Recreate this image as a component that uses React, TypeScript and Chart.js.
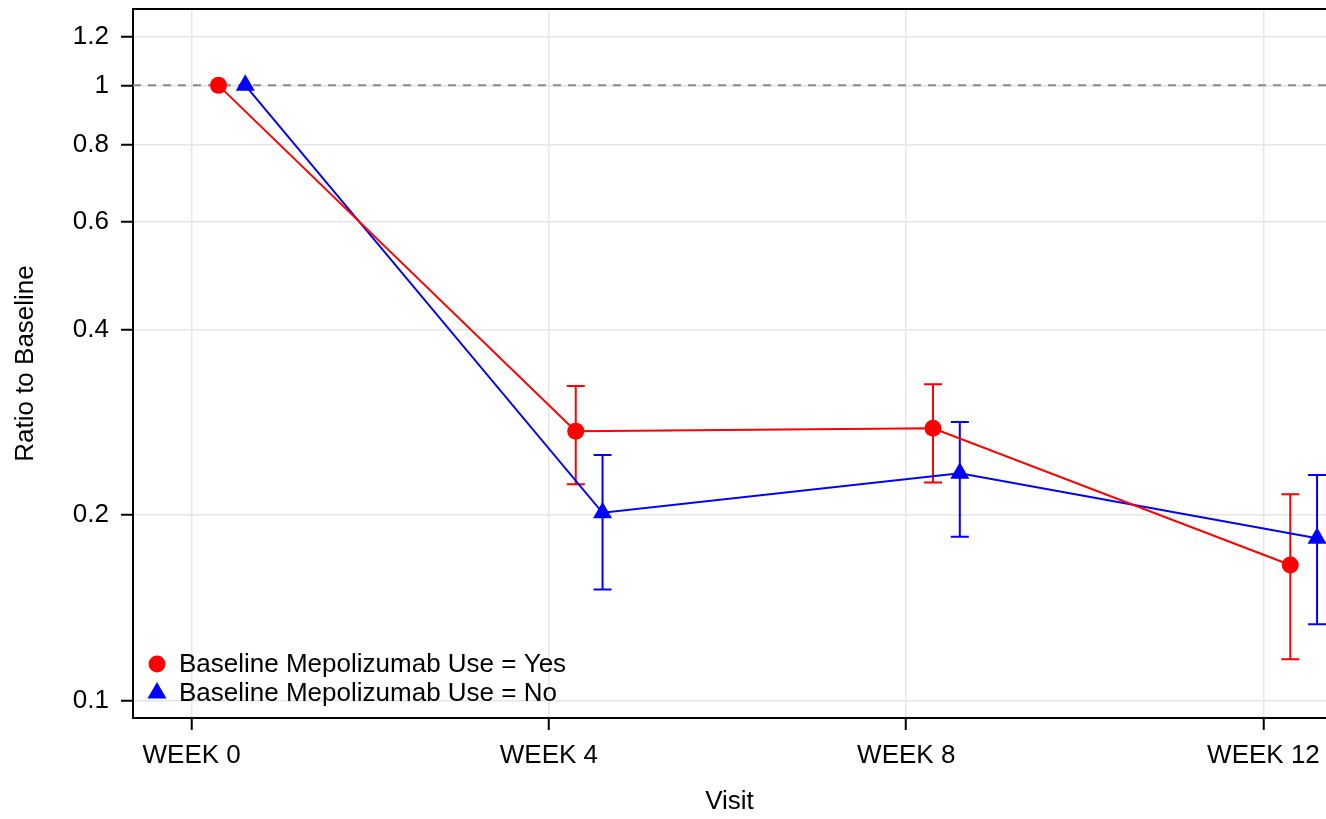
import React, { useEffect, useRef } from "react";
import { Chart, registerables } from "chart.js";

Chart.register(...registerables);

// ---- data ----
const visitLabels = ["WEEK 0", "WEEK 4", "WEEK 8", "WEEK 12"];
const visitWeeks = [0, 4, 8, 12];
const seriesNames = ["Baseline Mepolizumab Use = Yes", "Baseline Mepolizumab Use = No"];

const yesX = [0.3, 4.3, 8.3, 12.3];
const yesMean = [1.0, 0.274, 0.277, 0.166];
const yesLower = [null, 0.2245, 0.226, 0.1166];
const yesUpper = [null, 0.3245, 0.3265, 0.2164];

const noX = [0.6, 4.6, 8.6, 12.6];
const noMean = [1.0, 0.2018, 0.234, 0.1834];
const noLower = [null, 0.1515, 0.1845, 0.1329];
const noUpper = [null, 0.2505, 0.2835, 0.2324];

const yTicks = [0.1, 0.2, 0.4, 0.6, 0.8, 1, 1.2];
const yTickLabels = ["0.1", "0.2", "0.4", "0.6", "0.8", "1", "1.2"];
const referenceValue = 1;

const RED = "#ff0000";
const BLUE = "#0000ff";
const FONT = "'Liberation Sans', Arial, Helvetica, sans-serif";
const FS = 26;

export default function App() {
  const ref = useRef<HTMLCanvasElement | null>(null);

  useEffect(() => {
    const canvas = ref.current;
    if (!canvas) return;

    const errorBars = [
      { x: yesX, lo: yesLower, hi: yesUpper, color: RED },
      { x: noX, lo: noLower, hi: noUpper, color: BLUE },
    ];

    const extras = {
      id: "extras",
      beforeDatasetsDraw(chart: any) {
        const { ctx, chartArea, scales } = chart;
        const xs = scales.x;
        const ys = scales.y;
        ctx.save();
        // reference dashed line
        const yr = ys.getPixelForValue(referenceValue);
        ctx.strokeStyle = "#8a8a8a";
        ctx.lineWidth = 2;
        ctx.setLineDash([8, 7]);
        ctx.beginPath();
        ctx.moveTo(chartArea.left, yr);
        ctx.lineTo(chartArea.right, yr);
        ctx.stroke();
        ctx.setLineDash([]);
        // error bars
        ctx.lineWidth = 2;
        errorBars.forEach((s) => {
          ctx.strokeStyle = s.color;
          s.x.forEach((xv, i) => {
            const lo = s.lo[i];
            const hi = s.hi[i];
            if (lo == null || hi == null) return;
            const px = xs.getPixelForValue(xv);
            const pl = ys.getPixelForValue(lo);
            const ph = ys.getPixelForValue(hi);
            ctx.beginPath();
            ctx.moveTo(px, pl);
            ctx.lineTo(px, ph);
            ctx.moveTo(px - 9, pl);
            ctx.lineTo(px + 9, pl);
            ctx.moveTo(px - 9, ph);
            ctx.lineTo(px + 9, ph);
            ctx.stroke();
          });
        });
        ctx.restore();
      },
      afterDraw(chart: any) {
        const { ctx, chartArea } = chart;
        ctx.save();
        // top frame line
        ctx.strokeStyle = "#000";
        ctx.lineWidth = 2;
        ctx.beginPath();
        ctx.moveTo(chartArea.left - 1, chartArea.top);
        ctx.lineTo(chartArea.right, chartArea.top);
        ctx.stroke();
        // legend
        const lx = chartArea.left + 24;
        const y1 = chartArea.bottom - 54;
        const y2 = chartArea.bottom - 25;
        ctx.fillStyle = RED;
        ctx.beginPath();
        ctx.arc(lx, y1, 8.5, 0, Math.PI * 2);
        ctx.fill();
        ctx.fillStyle = BLUE;
        const r = 11;
        ctx.beginPath();
        ctx.moveTo(lx, y2 - r);
        ctx.lineTo(lx + r * 0.866, y2 + r * 0.5);
        ctx.lineTo(lx - r * 0.866, y2 + r * 0.5);
        ctx.closePath();
        ctx.fill();
        ctx.fillStyle = "#000";
        ctx.font = `${FS}px ${FONT}`;
        ctx.textBaseline = "middle";
        ctx.textAlign = "left";
        ctx.fillText(seriesNames[0], lx + 22, y1 + 1);
        ctx.fillText(seriesNames[1], lx + 22, y2 + 1);
        ctx.restore();
      },
    };

    const chart = new Chart(canvas, {
      type: "line",
      data: {
        datasets: [
          {
            label: seriesNames[0],
            data: yesX.map((x, i) => ({ x, y: yesMean[i] })),
            borderColor: RED,
            backgroundColor: RED,
            borderWidth: 2,
            pointStyle: "circle",
            pointRadius: 8.5,
            pointBackgroundColor: RED,
            pointBorderColor: RED,
            pointBorderWidth: 0,
            tension: 0,
          },
          {
            label: seriesNames[1],
            data: noX.map((x, i) => ({ x, y: noMean[i] })),
            borderColor: BLUE,
            backgroundColor: BLUE,
            borderWidth: 2,
            pointStyle: "triangle",
            pointRadius: 11,
            pointBackgroundColor: BLUE,
            pointBorderColor: BLUE,
            pointBorderWidth: 0,
            tension: 0,
          },
        ],
      },
      options: {
        animation: false,
        responsive: false,
        devicePixelRatio: 1,
        layout: { autoPadding: false, padding: { top: 9, left: 0, right: 0, bottom: 0 } },
        plugins: {
          legend: { display: false },
          tooltip: { enabled: false },
        },
        scales: {
          x: {
            type: "linear",
            min: -0.657,
            max: 12.7,
            afterBuildTicks(scale: any) {
              scale.ticks = visitWeeks.map((v) => ({ value: v }));
            },
            afterFit(scale: any) {
              scale.height = 101;
              scale.paddingLeft = 0;
              scale.paddingRight = 0;
            },
            ticks: {
              color: "#000",
              font: { family: FONT, size: FS },
              padding: 10,
              maxRotation: 0,
              autoSkip: false,
              callback: (_v: any, i: number) => visitLabels[i],
            },
            grid: {
              color: "#e6e6e6",
              lineWidth: 1.5,
              tickColor: "#000",
              tickWidth: 2,
              tickLength: 12,
            },
            border: { color: "#000", width: 2 },
            title: {
              display: true,
              text: "Visit",
              color: "#000",
              font: { family: FONT, size: FS },
              padding: { top: 0, bottom: 2 },
            },
          },
          y: {
            type: "logarithmic",
            min: 0.0936,
            max: 1.331,
            afterBuildTicks(scale: any) {
              scale.ticks = yTicks.map((v) => ({ value: v }));
            },
            afterFit(scale: any) {
              scale.width = 133;
              scale.paddingTop = 0;
              scale.paddingBottom = 0;
            },
            ticks: {
              color: "#000",
              font: { family: FONT, size: FS },
              padding: 12,
              autoSkip: false,
              callback: (_v: any, i: number) => yTickLabels[i],
            },
            grid: {
              color: "#e6e6e6",
              lineWidth: 1.5,
              tickColor: "#000",
              tickWidth: 2,
              tickLength: 12,
            },
            border: { color: "#000", width: 2 },
            title: {
              display: true,
              text: "Ratio to Baseline",
              color: "#000",
              font: { family: FONT, size: FS },
              padding: { top: 10, bottom: 0 },
            },
          },
        },
      },
      plugins: [extras],
    } as any);

    return () => chart.destroy();
  }, []);

  return (
    <div style={{ position: "fixed", left: 0, top: 0, width: 1326, height: 819, background: "#fff" }}>
      <canvas ref={ref} width={1326} height={819} style={{ display: "block", width: 1326, height: 819 }} />
    </div>
  );
}
